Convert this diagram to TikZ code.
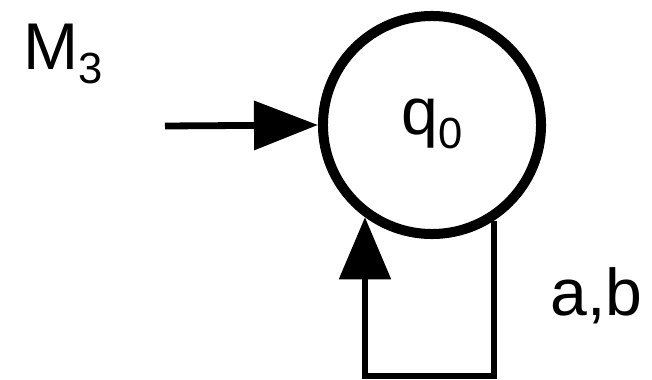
\documentclass[tikz,border=0pt]{standalone}
\usepackage{fontspec}
\setmainfont{Liberation Sans}
\usetikzlibrary{arrows.meta}

\newcommand{\bigtext}{\fontsize{47}{56}\selectfont}
\newcommand{\lowsub}[1]{\raisebox{-0.2em}{\fontsize{31}{36}\selectfont #1}}

\begin{document}
\begin{tikzpicture}[x=0.025cm, y=-0.025cm,
    state/.style={draw, circle, line width=0.25cm, minimum size=5.45cm, inner sep=0pt},
    edge/.style={line width=0.17cm, -{Triangle[length=1.6cm, width=1.2cm]}},
    loopedge/.style={line width=0.15cm, -{Triangle[length=1.55cm, width=1.27cm]}}]
    \useasboundingbox (0,0) rectangle (652,380);

    % State
    \node[state] (q0) at (432,125) {};
    \node[anchor=base, inner sep=0pt] (q0label) at (432,135) {\bigtext q\lowsub{0}};

    % Machine name
    \node[anchor=base west, inner sep=0pt] (name) at (23,70) {\bigtext M\lowsub{3}};

    % Start arrow
    \coordinate (start) at (165,126);
    \draw[edge] (start) -- (q0.west);

    % Self loop
    \draw[loopedge] (q0.-57.6) -- ++(0,155) -| (q0.-126.1);
    \node[anchor=base west, inner sep=0pt] (loopname) at (550,315) {\bigtext a,b};
\end{tikzpicture}
\end{document}
